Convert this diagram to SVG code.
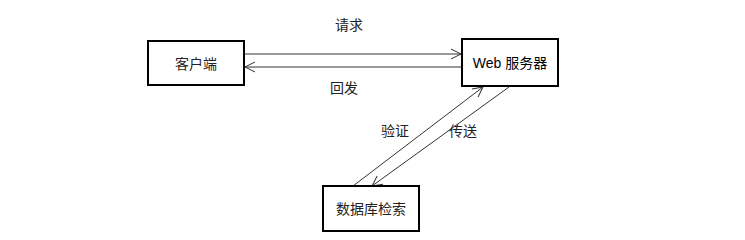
<svg xmlns="http://www.w3.org/2000/svg" width="745" height="240" viewBox="0 0 745 240">
<style>
.box{fill:#fff;stroke:#000;stroke-width:2}
.ln{stroke:#333;stroke-width:1;fill:none}
text{font-family:"Liberation Serif","Noto Sans CJK SC",serif;font-size:14px;fill:#222;text-anchor:middle;dominant-baseline:central}
.sans{font-family:"Liberation Sans","Noto Sans CJK SC",sans-serif;fill:#000}
</style>
<defs>
<marker id="arr" viewBox="0 0 12 12" refX="11" refY="6" markerWidth="12" markerHeight="12" markerUnits="userSpaceOnUse" orient="auto">
<path d="M1,1 L11,6 L1,11" fill="none" stroke="#333" stroke-width="1"/>
</marker>
</defs>
<rect width="745" height="240" fill="#fff"/>
<g id="connectors">
<line class="ln" x1="245" y1="54" x2="461" y2="54" marker-end="url(#arr)"/>
<line class="ln" x1="461" y1="67" x2="245" y2="67" marker-end="url(#arr)"/>
<line class="ln" x1="353" y1="186" x2="483" y2="87" marker-end="url(#arr)"/>
<line class="ln" x1="509" y1="87" x2="372" y2="186" marker-end="url(#arr)"/>
<text x="349" y="25">请求</text>
<text x="344" y="88">回发</text>
<text x="395" y="131">验证</text>
<text x="463" y="131">传送</text>
</g>
<g id="client">
<rect class="box" x="148" y="41" width="96" height="44"/>
<text x="196" y="64">客户端</text>
</g>
<g id="web">
<rect class="box" x="462" y="39" width="96" height="47"/>
<text class="sans" x="510" y="63">Web 服务器</text>
</g>
<g id="db">
<rect class="box" x="323" y="186" width="96" height="45"/>
<text x="371" y="209">数据库检索</text>
</g>
</svg>
